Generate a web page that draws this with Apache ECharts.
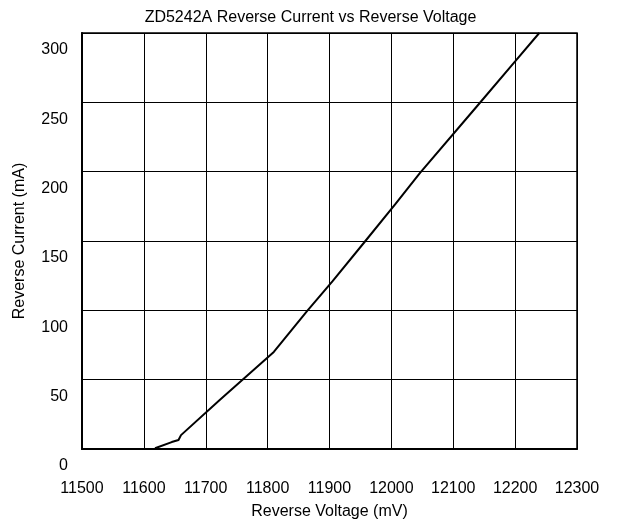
<!DOCTYPE html>
<html>
<head>
<meta charset="utf-8">
<script src="https://cdn.jsdelivr.net/npm/echarts@6/dist/echarts.min.js"></script>
<style>
  html, body { margin: 0; padding: 0; background: #fff; }
  #chart { width: 621px; height: 526px; }
</style>
</head>
<body>
<div id="chart"></div>
<script>
// voltage (mV) / current (mA)
const voltage = [11618, 11645, 11656, 11660, 11723, 11810, 11864, 11905, 11958, 12007, 12046, 12138, 12200, 12239]
const current = [0.5, 5, 6.5, 10, 35.5, 70, 99.6, 121, 150, 177, 199, 247, 279.5, 300]

const font = 'Liberation Sans, Arial, sans-serif'

const chart = echarts.init(document.getElementById('chart'))
const option = {
  animation: false,
  title: {
    text: 'ZD5242A Reverse Current vs Reverse Voltage',
    left: 'center',
    top: 5,
    textStyle: {
      fontFamily: font,
      fontSize: 16,
      fontWeight: 'normal',
      color: '#000',
    },
  },
  grid: {
    left: 82,
    right: 44,
    top: 33,
    bottom: 77,
    show: true,
    borderColor: '#000',
    borderWidth: 1.5,
  },
  xAxis: {
    type: 'value',
    min: 11500,
    max: 12300,
    interval: 100,
    name: 'Reverse Voltage (mV)',
    nameLocation: 'middle',
    nameGap: 55,
    nameTextStyle: { fontFamily: font, fontSize: 16, color: '#000' },
    axisLine: { lineStyle: { color: '#000', width: 2 } },
    axisTick: { show: false },
    axisLabel: {
      fontFamily: font,
      fontSize: 16,
      color: '#000',
      margin: 32,
      formatter: v => String(v),
    },
    splitLine: { lineStyle: { color: '#000', width: 1 } },
  },
  yAxis: {
    type: 'value',
    min: 0,
    max: 300,
    interval: 50,
    name: 'Reverse Current (mA)',
    nameLocation: 'middle',
    nameGap: 54,
    nameTextStyle: { fontFamily: font, fontSize: 16, color: '#000' },
    axisLine: { show: true, lineStyle: { color: '#000', width: 2 } },
    axisTick: { show: false },
    axisLabel: {
      fontFamily: font,
      fontSize: 16,
      color: '#000',
      margin: 14,
      verticalAlign: 'top',
      padding: [9, 0, 0, 0],
    },
    splitLine: { lineStyle: { color: '#000', width: 1 } },
  },
  series: [
    {
      type: 'line',
      data: voltage.map((v, i) => [v, current[i]]),
      showSymbol: false,
      smooth: false,
      lineStyle: { color: '#000', width: 2 },
    },
  ],
}
chart.setOption(option)
</script>
</body>
</html>
